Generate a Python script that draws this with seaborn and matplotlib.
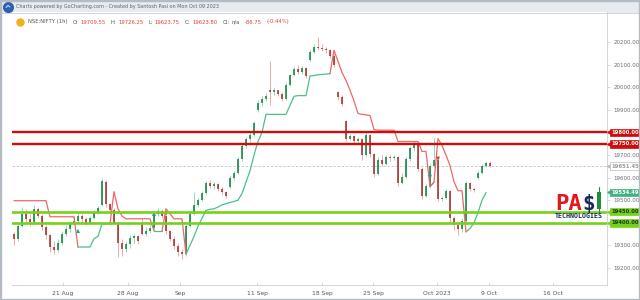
import matplotlib
matplotlib.use("Agg")
import numpy as np
import pandas as pd
import seaborn as sns
import matplotlib.pyplot as plt
from matplotlib.lines import Line2D
from matplotlib.patches import Rectangle
from matplotlib.transforms import blended_transform_factory

# ---------------- data ----------------
opens = [19350, 19330, 19385, 19440, 19415, 19405, 19462, 19430, 19380, 19345,
         19295, 19280, 19312, 19350, 19375, 19400, 19408, 19432, 19418, 19400,
         19422, 19445, 19480, 19580, 19482, 19458, 19400, 19310, 19285, 19305,
         19335, 19340, 19395, 19352, 19365, 19378, 19440, 19452, 19430, 19362,
         19330, 19298, 19270, 19262, 19385, 19440, 19480, 19500, 19532, 19575,
         19565, 19572, 19552, 19535, 19560, 19600, 19622, 19682, 19740, 19770,
         19790, 19900, 19932, 19950, 19990, 19980, 19986, 19972, 19950, 20012,
         20055, 20080, 20068, 20085, 20120, 20158, 20180, 20175, 20170, 20165,
         20140, 19980, 19958, 19850, 19772, 19785, 19762, 19770, 19700, 19790,
         19705, 19615, 19680, 19660, 19692, 19685, 19690, 19578, 19605, 19682,
         19730, 19745, 19640, 19520, 19562, 19652, 19676, 19505, 19512, 19540,
         19420, 19390, 19372, 19410, 19575, 19552, 19600, 19622, 19652, 19665]
highs = [19360, 19400, 19470, 19460, 19440, 19480, 19470, 19440, 19390, 19350,
         19320, 19330, 19365, 19390, 19410, 19430, 19445, 19440, 19425, 19430,
         19455, 19475, 19595, 19590, 19490, 19465, 19405, 19330, 19320, 19345,
         19350, 19345, 19420, 19380, 19390, 19450, 19465, 19460, 19435, 19370,
         19340, 19310, 19285, 19395, 19450, 19538, 19510, 19540, 19585, 19590,
         19580, 19578, 19560, 19540, 19610, 19630, 19690, 19748, 19780, 19800,
         19850, 19945, 19960, 19975, 20115, 19995, 19990, 19978, 20020, 20060,
         20090, 20100, 20095, 20090, 20165, 20190, 20222, 20190, 20180, 20170,
         20145, 19985, 19965, 19855, 19795, 19790, 19780, 19775, 19800, 19795,
         19710, 19690, 19700, 19700, 19700, 19700, 19695, 19620, 19690, 19740,
         19762, 19750, 19645, 19570, 19660, 19775, 19680, 19520, 19550, 19545,
         19430, 19400, 19420, 19585, 19580, 19560, 19630, 19660, 19675, 19672]
lows = [19300, 19320, 19380, 19400, 19385, 19400, 19420, 19370, 19330, 19270,
        19260, 19270, 19300, 19340, 19360, 19390, 19400, 19405, 19390, 19395,
        19415, 19440, 19475, 19470, 19445, 19395, 19250, 19255, 19270, 19290,
        19310, 19305, 19345, 19340, 19355, 19370, 19430, 19420, 19350, 19320,
        19285, 19255, 19240, 19255, 19380, 19435, 19470, 19495, 19525, 19555,
        19550, 19540, 19525, 19510, 19555, 19590, 19615, 19675, 19730, 19745,
        19785, 19890, 19915, 19940, 19920, 19965, 19960, 19940, 19945, 20005,
        20050, 20060, 20060, 20040, 20115, 20150, 20165, 20160, 20150, 20130,
        20090, 19945, 19915, 19760, 19765, 19755, 19750, 19680, 19695, 19690,
        19605, 19610, 19650, 19655, 19675, 19680, 19565, 19570, 19600, 19675,
        19720, 19630, 19505, 19515, 19555, 19645, 19495, 19495, 19505, 19405,
        19370, 19345, 19360, 19400, 19540, 19535, 19595, 19615, 19645, 19645]
closes = [19330, 19385, 19440, 19415, 19405, 19462, 19430, 19380, 19345, 19295,
          19280, 19312, 19350, 19375, 19400, 19408, 19432, 19418, 19400, 19422,
          19445, 19465, 19585, 19482, 19458, 19400, 19310, 19285, 19305, 19335,
          19340, 19320, 19352, 19365, 19378, 19440, 19452, 19430, 19362, 19330,
          19298, 19270, 19262, 19385, 19440, 19480, 19500, 19532, 19575, 19565,
          19572, 19552, 19535, 19518, 19600, 19622, 19682, 19740, 19770, 19790,
          19842, 19932, 19950, 19962, 19980, 19986, 19972, 19950, 20012, 20055,
          20080, 20068, 20085, 20050, 20158, 20180, 20175, 20170, 20165, 20140,
          20100, 19958, 19925, 19772, 19785, 19762, 19770, 19700, 19790, 19705,
          19615, 19680, 19660, 19692, 19685, 19690, 19578, 19605, 19682, 19730,
          19745, 19640, 19520, 19562, 19652, 19680, 19505, 19512, 19540, 19420,
          19390, 19372, 19410, 19575, 19552, 19545, 19622, 19652, 19665, 19651.45]

N = None
supertrend_down = [19498, 19498, 19498, 19498, 19498, 19498, 19498, 19498, 19498, 19427,
                   19427, 19427, 19427, 19427, 19427, 19427, 19293, N, N, N,
                   N, N, N, N, 19395, 19538, 19462, 19430, 19418, 19418,
                   19418, 19418, 19418, 19418, 19418, 19364, N, 19364, 19462, 19440,
                   19418, 19418, 19418, 19262, N, N, N, N, N, N,
                   N, N, N, N, N, N, N, N, N, N,
                   N, N, N, N, N, N, N, N, N, N,
                   N, N, N, N, N, N, N, N, N, 20060,
                   20164, 20115, 20065, 20030, 19987, 19940, 19884, 19880, 19878, 19875,
                   19813, 19810, 19810, 19810, 19810, 19810, 19760, 19760, 19760, 19760,
                   19760, 19760, 19716, 19716, 19560, 19580, 19773, 19742, 19700, 19653,
                   19582, 19542, 19542, 19360, N, N, N, N, N, N]
supertrend_up = [N, N, N, N, N, N, N, N, N, N,
                 N, N, N, N, N, N, 19293, 19293, 19293, 19293,
                 19330, 19340, 19395, 19395, 19395, N, N, N, N, N,
                 N, N, N, N, N, 19364, 19364, 19364, N, N,
                 N, N, N, 19262, 19300, 19340, 19385, 19420, 19455, 19460,
                 19462, 19470, 19480, 19485, 19490, 19495, 19500, 19530, 19580, 19630,
                 19700, 19760, 19800, 19880, 19880, 19880, 19880, 19880, 19880, 19920,
                 19960, 19963, 19963, 19963, 20050, 20052, 20055, 20057, 20058, 20060,
                 N, N, N, N, N, N, N, N, N, N,
                 N, N, N, N, N, N, N, N, N, N,
                 N, N, N, N, 19560, 19580, N, N, N, N,
                 N, N, N, 19360, 19375, 19400, 19445, 19500, 19534.49, N]

buy_index = [16, 35, 104, 113]
buy_price = [19364, 19440, 19615, 19450]
sell_index = [38, 106]
sell_price = [19440, 19684]

resistance_levels = [19800, 19750]
support_levels = [19450, 19400]
last_price = 19651.45
supertrend_last = 19534.49

price_ticks = [19200, 19300, 19500, 19600, 19700, 19900, 20000, 20100, 20200]
date_tick_pos = [12.25, 28.5, 41.5, 60.75, 77, 89.75, 105.75, 118.75, 134.75]
date_tick_labels = ["21 Aug", "28 Aug", "Sep", "11 Sep", "18 Sep", "25 Sep",
                    "Oct 2023", "9 Oct", "16 Oct"]

header_parts = [("NSE:NIFTY (1h)", "#555555"), ("O:", "#555555"), ("19709.55", "#e0403c"),
                ("H:", "#555555"), ("19726.25", "#e0403c"), ("L:", "#555555"),
                ("19623.75", "#e0403c"), ("C:", "#555555"), ("19623.80", "#e0403c"),
                ("OI:", "#555555"), ("n/a", "#555555"), ("-86.75", "#e0403c"),
                ("(-0.44%)", "#e0403c")]

# ---------------- styling ----------------
sns.set_theme(style="white")
plt.rcParams["font.family"] = ["DejaVu Sans"]

W, H = 640, 300
fig = plt.figure(figsize=(6.4, 3.0), dpi=100)
fig.patch.set_facecolor("white")


def fx(px):
    return px / W


def fy(py):
    return 1 - py / H


# top bar
fig.add_artist(Rectangle((0, fy(13)), 1, 13 / H, transform=fig.transFigure,
                         facecolor="#e7eaee", edgecolor="none", zorder=0))
fig.add_artist(Line2D([0, 1], [fy(13), fy(13)], transform=fig.transFigure,
                      color="#c9ced4", lw=0.6))
fig.add_artist(Line2D([fx(8)], [fy(6.5)], transform=fig.transFigure, marker="o",
                      ms=7, color="#2f5fb3", lw=0))
fig.add_artist(Line2D([fx(6), fx(8), fx(10)], [fy(7.5), fy(5.5), fy(7)],
                      transform=fig.transFigure, color="white", lw=0.6))
fig.text(fx(16), fy(6.5), "Charts powered by GoCharting.com - Created by Santosh Pasi on Mon Oct 09 2023",
         fontsize=3.5, color="#59626c", va="center", ha="left")
# outer frame
fig.add_artist(Rectangle((0, 0), 1, 1, transform=fig.transFigure, facecolor="none",
                         edgecolor="#b4bbc3", lw=2.4, zorder=10))

ax = fig.add_axes([fx(12), 15 / H, 595 / W, 273 / H])
ax.set_facecolor("white")
x = np.arange(len(closes))
o = np.array(opens, float)
c = np.array(closes, float)
h = np.array(highs, float)
l = np.array(lows, float)
up = c >= o

# wicks
ax.vlines(x[up], l[up], h[up], color="#93d9b4", lw=0.7, zorder=2)
ax.vlines(x[~up], l[~up], h[~up], color="#f3a9a9", lw=0.7, zorder=2)
# bodies
body = np.maximum(np.abs(c - o), 3)
ax.bar(x[up], body[up], bottom=o[up], width=0.45, color="#1c8a4e", alpha=0.85,
       linewidth=0, zorder=3)
ax.bar(x[~up], body[~up], bottom=c[~up], width=0.45, color="#a03030", alpha=0.8,
       linewidth=0, zorder=3)


def segments(values):
    rows, seg, prev = [], 0, False
    for i, v in enumerate(values):
        if v is None:
            if prev:
                seg += 1
            prev = False
            continue
        rows.append((i, v, seg))
        prev = True
    return pd.DataFrame(rows, columns=["idx", "price", "seg"])


dn = segments(supertrend_down)
upd = segments(supertrend_up)
sns.lineplot(data=upd, x="idx", y="price", units="seg", estimator=None,
             color="#4cc08a", lw=0.9, ax=ax, zorder=4)
sns.lineplot(data=dn, x="idx", y="price", units="seg", estimator=None,
             color="#f06767", lw=0.9, ax=ax, zorder=4)

sns.scatterplot(x=buy_index, y=buy_price, marker="^", s=9, color="#1f9e86",
                edgecolor="none", ax=ax, zorder=5)
sns.scatterplot(x=sell_index, y=sell_price, marker="v", s=9, color="#e53935",
                edgecolor="none", ax=ax, zorder=5)

# levels
for lv in resistance_levels:
    ax.axhline(lv, color="#d10a0a", lw=1.7, zorder=6)
for lv in support_levels:
    ax.axhline(lv, color="#74d11c", lw=1.9, zorder=6)
ax.axhline(last_price, color="#c4c4c4", lw=0.6, ls=(0, (3, 2)), zorder=1)

ax.set_xlim(-0.5, 148.25)
ax.set_ylim(19125, 20333)
ax.set_xlabel("")
ax.set_ylabel("")

for s in ["left", "top"]:
    ax.spines[s].set_visible(False)
ax.spines["right"].set_color("#d5d5d5")
ax.spines["right"].set_linewidth(0.7)
ax.spines["bottom"].set_color("#d5d5d5")
ax.spines["bottom"].set_linewidth(0.7)

ax.yaxis.tick_right()
ax.set_yticks(price_ticks)
ax.set_yticklabels([f"{v:.2f}" for v in price_ticks])
ax.tick_params(axis="y", labelsize=4.0, labelcolor="#6b6b6b", length=2.5,
               width=0.5, color="#cccccc", pad=2, right=True, left=False)
ax.set_xticks(date_tick_pos)
ax.set_xticklabels(date_tick_labels)
ax.tick_params(axis="x", labelsize=4.3, labelcolor="#555555", length=2,
               width=0.5, color="#cccccc", direction="in", pad=4, bottom=True)

# right-axis tags
tr = blended_transform_factory(ax.transAxes, ax.transData)
tags = [(19800, "19800.00", "#d10a0a", "white", "#d10a0a"),
        (19750, "19750.00", "#d10a0a", "white", "#d10a0a"),
        (last_price, f"{last_price:.2f}", "white", "#9a9a9a", "#bdbdbd"),
        (supertrend_last, f"{supertrend_last:.2f}", "#3fb383", "white", "#3fb383"),
        (19450, "19450.00", "#74d11c", "#1d3a10", "#74d11c"),
        (19400, "19400.00", "#74d11c", "#1d3a10", "#74d11c")]
for price, label, bg, fg, ec in tags:
    ax.plot([1.003], [price], marker="<", ms=2.6, color=ec, transform=tr,
            clip_on=False, zorder=7)
    ax.text(1.007, price, label, transform=tr, fontsize=3.8, color=fg,
            fontweight="bold", va="center", ha="left", clip_on=False, zorder=8,
            bbox=dict(boxstyle="square,pad=0.25", fc=bg, ec=ec, lw=0.5))

# header line inside the chart (pieces chained one after another)
fig.add_artist(Line2D([fx(20)], [fy(22)], transform=fig.transFigure, marker="o",
                      ms=5, color="#f2b01e", lw=0))
last = fig.text(fx(28), fy(22), header_parts[0][0], fontsize=3.8,
                color=header_parts[0][1], va="center", ha="left")
for k, (txt, col) in enumerate(header_parts[1:], start=1):
    gap = 1.4 if header_parts[k - 1][0].endswith(":") else 3.6
    last = ax.annotate(txt, xy=(1, 0.5), xycoords=last, xytext=(gap, 0),
                       textcoords="offset points", fontsize=3.8, color=col,
                       va="center", ha="left", annotation_clip=False)

# PASI logo
fig.text(fx(555), fy(210), "PA", fontsize=16, fontweight="bold", color="#e3161b",
         family="DejaVu Sans Mono", va="baseline", ha="left")
fig.text(fx(582), fy(210), "$", fontsize=15, fontweight="bold", color="#1b2a57",
         family="DejaVu Sans Mono", va="baseline", ha="left")
fig.add_artist(Line2D([fx(599), fx(599)], [fy(187), fy(212)],
                      transform=fig.transFigure, color="#1f8f3a", lw=0.8))
fig.add_artist(Rectangle((fx(597), fy(209)), 4 / W, 17 / H, transform=fig.transFigure,
                         facecolor="#1f8f3a", edgecolor="none"))
fig.text(fx(555), fy(216), "TECHNOLOGIES", fontsize=4.8, fontweight="bold",
         color="#1b2a57", family="DejaVu Sans Mono", va="center", ha="left")

fig.savefig("out.png", dpi=100)
